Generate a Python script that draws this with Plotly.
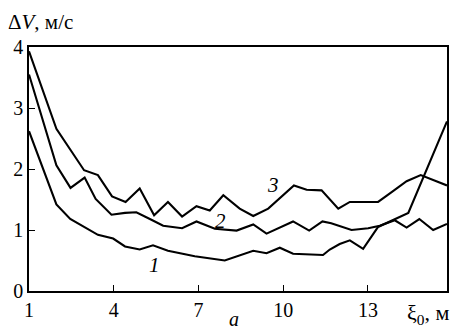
import plotly.graph_objects as go

# Curve 1
x1 = [1.0, 1.97, 2.46, 2.95, 3.44, 3.98, 4.4, 4.92, 5.39, 5.92, 6.87, 7.93, 8.94, 9.41, 9.88, 10.35, 11.41, 11.65, 12.0, 12.36, 12.83, 13.36, 14.43, 15.8]
y1 = [2.62, 1.42, 1.18, 1.05, 0.92, 0.86, 0.73, 0.68, 0.75, 0.66, 0.57, 0.50, 0.66, 0.62, 0.71, 0.61, 0.59, 0.68, 0.77, 0.83, 0.69, 1.05, 1.28, 2.78]

# Curve 2
x2 = [1.0, 1.97, 2.47, 2.97, 3.36, 3.92, 4.4, 4.8, 5.28, 5.75, 6.42, 6.93, 7.58, 8.35, 8.94, 9.41, 10.35, 10.92, 11.39, 11.7, 12.42, 13.01, 13.42, 13.95, 14.37, 14.82, 15.31, 15.8]
y2 = [3.55, 2.06, 1.69, 1.86, 1.51, 1.25, 1.28, 1.29, 1.18, 1.07, 1.03, 1.14, 1.02, 0.99, 1.09, 0.94, 1.14, 0.99, 1.14, 1.11, 1.00, 1.03, 1.07, 1.16, 1.04, 1.18, 1.00, 1.10]

# Curve 3
x3 = [1.0, 1.97, 2.95, 3.44, 3.94, 4.42, 4.92, 5.43, 5.92, 6.42, 6.93, 7.4, 7.88, 8.46, 8.94, 9.47, 10.38, 10.83, 11.36, 11.95, 12.36, 13.36, 13.84, 14.37, 14.87, 15.8]
y3 = [3.93, 2.66, 1.98, 1.90, 1.55, 1.46, 1.68, 1.24, 1.46, 1.22, 1.39, 1.32, 1.57, 1.35, 1.23, 1.35, 1.73, 1.66, 1.65, 1.35, 1.46, 1.46, 1.62, 1.80, 1.90, 1.73]

x_ticks = [1, 4, 7, 10, 13]
y_ticks = [0, 1, 2, 3, 4]

curve_labels = ["1", "2", "3"]
label_x = [5.45, 7.78, 9.64]
label_y = [0.42, 1.14, 1.73]

FONT = "Liberation Serif, Times New Roman, serif"

fig = go.Figure()
for xs, ys in [(x1, y1), (x2, y2), (x3, y3)]:
    fig.add_trace(go.Scatter(x=xs, y=ys, mode="lines",
                             line=dict(color="black", width=2.1),
                             showlegend=False, hoverinfo="skip"))

for t, lx, ly in zip(curve_labels, label_x, label_y):
    fig.add_annotation(x=lx, y=ly, text="<i>" + t + "</i>", showarrow=False,
                       font=dict(family=FONT, size=21, color="black"))

fig.add_annotation(xref="paper", yref="paper", x=-0.055, y=1.045, xanchor="left", yanchor="bottom",
                   text="Δ<i>V</i>, м/с", showarrow=False,
                   font=dict(family=FONT, size=21, color="black"))
fig.add_annotation(xref="paper", yref="paper", x=1.012, y=-0.03, xanchor="right", yanchor="top",
                   text="ξ<sub>0</sub>, м", showarrow=False,
                   font=dict(family=FONT, size=22, color="black"))
fig.add_annotation(xref="paper", yref="paper", x=0.49, y=-0.062, xanchor="center", yanchor="top",
                   text="<i>а</i>", showarrow=False,
                   font=dict(family=FONT, size=20, color="black"))

fig.update_xaxes(range=[1, 15.8], tickvals=x_ticks, ticktext=[str(v) for v in x_ticks],
                 showline=True, linecolor="black", linewidth=1.5, mirror=True,
                 ticks="inside", ticklen=6, tickcolor="black", tickwidth=1,
                 showgrid=False, zeroline=False, automargin=False,
                 tickfont=dict(family=FONT, size=20, color="black"))
fig.update_yaxes(range=[0, 4], tickvals=y_ticks, ticktext=[str(v) for v in y_ticks],
                 showline=True, linecolor="black", linewidth=1.5, mirror=True,
                 ticks="inside", ticklen=6, tickcolor="black", tickwidth=1,
                 showgrid=False, zeroline=False, automargin=False,
                 tickfont=dict(family=FONT, size=20, color="black"))

fig.update_layout(width=454, height=329,
                  margin=dict(l=29, r=7, t=47, b=38),
                  font=dict(family=FONT, color="black"),
                  paper_bgcolor="white", plot_bgcolor="white")

fig.write_html("out.html", config={"displayModeBar": False},
               post_script="document.body.style.margin='0';document.body.style.padding='0';document.body.style.overflow='hidden';")
